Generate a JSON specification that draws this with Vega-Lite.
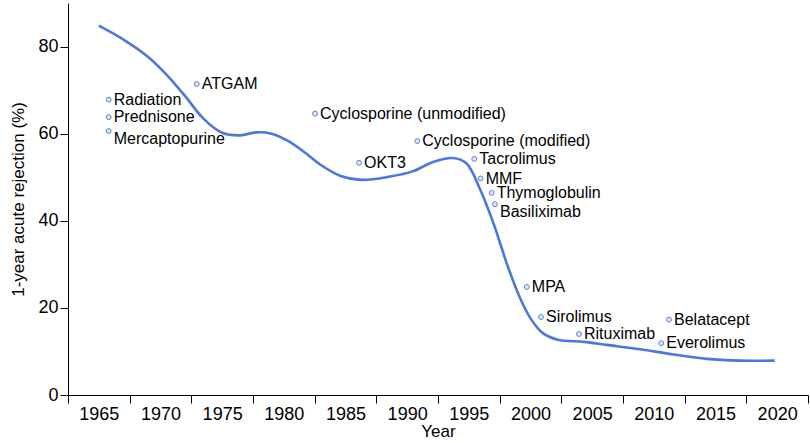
{
  "$schema": "https://vega.github.io/schema/vega-lite/v6.json",
  "width": 740,
  "height": 392,
  "autosize": {"type": "none"},
  "padding": {"left": 68, "top": 3, "right": 2, "bottom": 48},
  "background": "white",
  "config": {
    "view": {"stroke": null},
    "font": "Liberation Sans",
    "axis": {
      "grid": false,
      "domainColor": "black",
      "tickColor": "black",
      "domainWidth": 1,
      "tickWidth": 1,
      "tickSize": 8,
      "labelColor": "black",
      "titleColor": "black",
      "labelFontSize": 18,
      "titleFontSize": 17,
      "titleFontWeight": "normal",
      "labelFont": "Liberation Sans",
      "titleFont": "Liberation Sans"
    }
  },
  "datasets": {
    "curve": [
      {"year": 1965.0, "value": 84.8},
      {"year": 1967.0, "value": 81.6},
      {"year": 1969.0, "value": 77.6},
      {"year": 1970.5, "value": 73.5},
      {"year": 1972.0, "value": 68.6},
      {"year": 1973.5, "value": 63.4},
      {"year": 1975.0, "value": 60.2},
      {"year": 1976.3, "value": 59.6},
      {"year": 1977.8, "value": 60.3},
      {"year": 1979.0, "value": 60.0},
      {"year": 1980.3, "value": 58.4},
      {"year": 1981.6, "value": 55.9},
      {"year": 1983.0, "value": 52.8},
      {"year": 1984.6, "value": 50.3},
      {"year": 1986.3, "value": 49.4},
      {"year": 1988.5, "value": 50.1},
      {"year": 1990.5, "value": 51.4},
      {"year": 1992.1, "value": 53.5},
      {"year": 1993.7, "value": 54.4},
      {"year": 1994.8, "value": 53.2},
      {"year": 1995.9, "value": 47.3},
      {"year": 1997.0, "value": 39.4},
      {"year": 1998.1, "value": 30.0},
      {"year": 1999.1, "value": 22.6},
      {"year": 2000.0, "value": 17.6},
      {"year": 2001.0, "value": 14.2},
      {"year": 2002.2, "value": 12.7},
      {"year": 2004.3, "value": 12.2},
      {"year": 2006.2, "value": 11.5},
      {"year": 2008.9, "value": 10.5},
      {"year": 2011.6, "value": 9.3},
      {"year": 2014.3, "value": 8.3},
      {"year": 2017.0, "value": 7.9},
      {"year": 2019.8, "value": 7.9}
    ],
    "drugs": [
      {"drug": "Radiation", "year": 1965.8, "value": 67.8},
      {"drug": "Prednisone", "year": 1965.8, "value": 63.8},
      {"drug": "Mercaptopurine", "year": 1965.8, "value": 60.6},
      {"drug": "ATGAM", "year": 1972.94, "value": 71.4},
      {"drug": "Cyclosporine (unmodified)", "year": 1982.53, "value": 64.6},
      {"drug": "OKT3", "year": 1986.1, "value": 53.3},
      {"drug": "Cyclosporine (modified)", "year": 1990.82, "value": 58.3},
      {"drug": "Tacrolimus", "year": 1995.44, "value": 54.2},
      {"drug": "MMF", "year": 1995.96, "value": 49.7},
      {"drug": "Thymoglobulin", "year": 1996.85, "value": 46.4},
      {"drug": "Basiliximab", "year": 1997.12, "value": 43.8},
      {"drug": "MPA", "year": 1999.7, "value": 24.8},
      {"drug": "Sirolimus", "year": 2000.85, "value": 17.9},
      {"drug": "Rituximab", "year": 2003.93, "value": 14.0},
      {"drug": "Belatacept", "year": 2011.23, "value": 17.3},
      {"drug": "Everolimus", "year": 2010.6, "value": 11.9}
    ]
  },
  "encoding": {
    "x": {
      "field": "year",
      "type": "quantitative",
      "scale": {"domain": [1962.5, 2022.5], "nice": false, "zero": false},
      "axis": {
        "title": "Year",
        "titlePadding": 0,
        "values": [1962.5, 1967.5, 1972.5, 1977.5, 1982.5, 1987.5, 1992.5, 1997.5, 2002.5, 2007.5, 2012.5, 2017.5, 2022.5],
        "labelExpr": "datum.value > 2020 ? '' : format(datum.value + 2.5, 'd')",
        "labelOffset": 30.8,
        "labelOverlap": false,
        "labelBound": false,
        "labelFlush": false,
        "labelPadding": 2
      }
    },
    "y": {
      "field": "value",
      "type": "quantitative",
      "scale": {"domain": [0, 90], "nice": false},
      "axis": {
        "title": "1-year acute rejection (%)",
        "values": [0, 20, 40, 60, 80],
        "labelPadding": 2,
        "titlePadding": 10
      }
    }
  },
  "layer": [
    {
      "data": {"name": "curve"},
      "mark": {"type": "line", "interpolate": "catmull-rom", "color": "#4a78dc", "strokeWidth": 2.6}
    },
    {
      "data": {"name": "drugs"},
      "mark": {"type": "point", "shape": "circle", "filled": false, "size": 24, "stroke": "#5b82d4", "fill": "#dfe7f7", "fillOpacity": 1, "strokeWidth": 1}
    },
    {
      "data": {"name": "drugs"},
      "transform": [{"filter": "datum.drug !== 'Mercaptopurine' && datum.drug !== 'Basiliximab'"}],
      "mark": {"type": "text", "align": "left", "baseline": "middle", "dx": 5, "fontSize": 16, "color": "black"},
      "encoding": {"text": {"field": "drug"}}
    },
    {
      "data": {"name": "drugs"},
      "transform": [{"filter": "datum.drug === 'Mercaptopurine' || datum.drug === 'Basiliximab'"}],
      "mark": {"type": "text", "align": "left", "baseline": "middle", "dx": 5, "dy": 8, "fontSize": 16, "color": "black"},
      "encoding": {"text": {"field": "drug"}}
    }
  ]
}
